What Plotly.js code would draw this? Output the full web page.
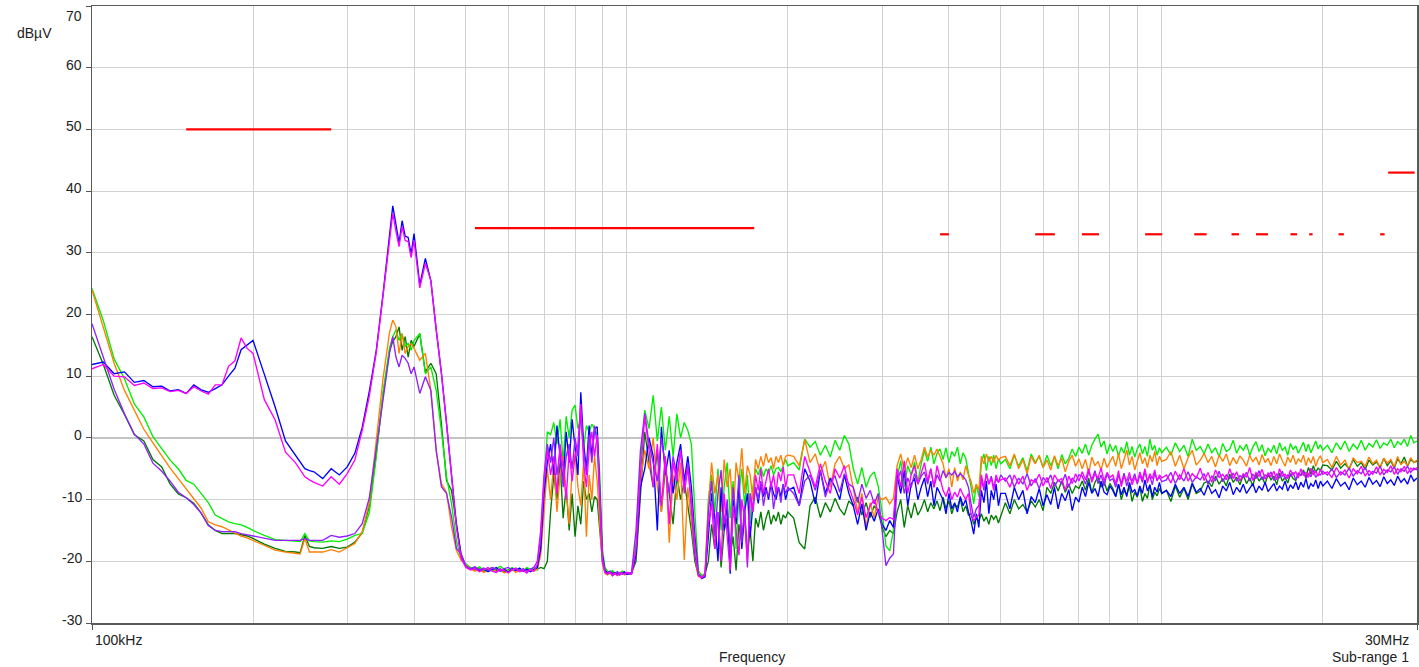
<!DOCTYPE html>
<html>
<head>
<meta charset="utf-8">
<script src="https://cdn.plot.ly/plotly-3.0.1.min.js"></script>
<style>html,body{margin:0;padding:0;background:#fff;}#chart{width:1419px;height:667px;}</style>
</head>
<body>
<div id="chart"></div>
<script>
// ---------- frequency grid (kHz) ----------
const freqLow = [100,105,110,115,120,125,130,135,140,145,150,155,160,165,170,175,180,185,190,195,200,
  210,220,230,240,245,250,255,260,270,280,290,300,310,320,330,340,350,360,
  365,370,375,380,385,390,395,400,
  410,420,430,440,450,460,470,480,490];
const freqA = [500,510,520,530,540,550,560,570,580,590,600,610,620,630,640,650,660,670,680,690,700,710,720,730,740,750,760,770,780,790,800,810,820,830,840,850,860,870,880,890,900,910,920,930,940,950,960,970,980,990,1000];
const freqB = [1020,1040,1060,1080,1100,1120,1140,1160,1180,1200,1220,1240,1260,1280,1300,1320,1340,1360,1380,1400,1420,1440,1460,1480,1500,1520,1540,1560,1580,1600,1620,1640,1660,1680,1700,1720,1740,1760,1780,1800,1820,1840,1860,1880,1900,1920,1940,1960,1980,2000];
const freqC = [2050,2100,2150,2200,2250,2300,2350,2400,2450,2500,2550,2600,2650,2700,2750,2800,2850,2900,2950,3000,3050,3100,3150,3200,3250,3300,3350,3400,3450,3500,3550,3600,3650,3700,3750,3800,3850,3900,3950,4000,4050,4100,4150,4200,4250,4300,4350,4400,4450,4500,4550,4600,4650,4700,4750,4800,4850,4900,4950,5000];
const freqD = [5100,5200,5300,5400,5500,5600,5700,5800,5900,6000,6100,6200,6300,6400,6500,6600,6700,6800,6900,7000,7100,7200,7300,7400,7500,7600,7700,7800,7900,8000,8100,8200,8300,8400,8500,8600,8700,8800,8900,9000,9100,9200,9300,9400,9500,9600,9700,9800,9900,10000];
const freqE = [10200,10400,10600,10800,11000,11200,11400,11600,11800,12000,12200,12400,12600,12800,13000,13200,13400,13600,13800,14000,14200,14400,14600,14800,15000,15200,15400,15600,15800,16000,16200,16400,16600,16800,17000,17200,17400,17600,17800,18000,18200,18400,18600,18800,19000,19200,19400,19600,19800,20000];
const freqF = [20400,20800,21200,21600,22000,22400,22800,23200,23600,24000,24400,24800,25200,25600,26000,26400,26800,27200,27600,28000,28400,28800,29200,29600,30000];

// ---------- blue ----------
const blueLow = [11.9,12.3,10.4,10.7,9.0,9.3,8.3,8.4,7.6,7.8,7.2,8.6,7.8,7.4,8.0,8.6,10.0,11.3,14.3,15.0,15.8,
  10.3,5.0,-0.5,-2.8,-4.0,-5.0,-5.3,-5.5,-6.6,-5.0,-6.0,-4.7,-2.5,1.7,7.6,14.2,23.3,32.7,
  37.6,34.6,31.6,35.2,32.7,32.5,29.8,33.1,
  24.8,29.1,25.5,17.6,10.5,2.4,-6.0,-14.0,-18.9];
const blueA = [-20.8,-21.3,-21.0,-21.5,-21.2,-21.7,-21.4,-21.0,-21.6,-21.3,-21.8,-21.2,-21.5,-21.1,-21.6,-21.3,-21.7,-21.4,-21.0,
  -18,-9,-4,-1,-6,2,-3,-7,1,-4,3,-2,-6,7.4,-1,-5,2,-3,1.5,1.8,-8,-19,-21.5,
  -21.9,-21.6,-22.1,-21.8,-22.2,-21.9,-22.0,-21.7,-22.1];
const blueB = [-22.0,-19,-8,-5,0,-3,-15,1.8,-6,-2,-9,-4,-1,-7,-3,-8,-16,-22,-22.8,-22.5,
  -16,-9,-13,-20,-8,-15,-11,-22,-10,-14,-7.5,-18,-12,-9,-16,-11,
  -8,-10.6,-7.5,-9.5,-8,-10,-7.4,-9,-10,-8,-9.5,-7.5,-10,-8.5];
const blueC = [-8.0,-11.0,-5.0,-7.0,-10.7,-5.3,-9.0,-6.5,-8.0,-10.0,-6.0,-9.0,-11.0,-14.0,-10.7,-15.0,-12.0,-13.5,-11.5,
  -14.0,-15.0,-13.4,-14.5,-6.0,-9.0,-5.3,-11.0,-7.5,-6.5,-10.0,-8.0,-6.5,-9.5,-7.0,-11.0,-8.0,-9.0,
  -10.0,-12.3,-9.0,-11.5,-10.5,-12.0,-9.5,-11.0,-10.0,-12.0,-13.5,-15.6,-12.3,-14.5,
  -8.5,-10.5,-7.0,-12.3,-8.5,-10.0,-7.5,-11.0,-9.0];
const blueD = [-9.0,-11.5,-8.0,-10.0,-8.5,-12.3,-9.5,-10.5,-8.2,-11.0,
  -9.2,-10.8,-8.0,-11.5,-9.0,-10.2,-8.4,-11.8,-9.6,-10.4,
  -8.0,-9.5,-7.2,-9.0,-8.2,-9.5,-7.0,-8.8,-9.2,-7.8,
  -8.5,-9.5,-7.5,-9.2,-8.0,-9.5,-7.2,-8.8,-8.4,-9.4,
  -7.8,-9.0,-6.8,-8.6,-7.6,-9.5,-8.0,-8.8,-7.2,-9.0];
const blueE = [-8.5,-9.5,-7.5,-9.0,-8.0,-9.5,-7.3,-8.8,-8.2,-9.3,
  -7.6,-9.0,-8.4,-9.7,-7.8,-8.6,-7.2,-9.2,-8.0,-8.8,
  -7.5,-9.0,-8.2,-7.4,-8.9,-7.8,-8.5,-7.2,-8.7,-8.0,
  -7.4,-8.6,-7.8,-8.3,-7.0,-8.6,-7.6,-8.2,-7.1,-8.4,
  -7.2,-8.0,-6.6,-8.3,-7.4,-7.9,-6.8,-8.2,-7.0,-7.8];
const blueF = [-7.0,-8.2,-6.6,-7.8,-7.2,-8.4,-6.5,-7.6,-7.0,-8.0,-6.4,-7.5,-6.9,-7.9,-6.3,-7.4,-6.8,-7.7,-6.2,-7.2,-6.6,-7.5,-6.0,-7.0,-6.5];

// ---------- magenta ----------
const magentaLow = [11.2,11.9,10.0,9.9,8.5,8.9,8.0,8.1,7.5,7.7,7.2,8.3,7.6,7.1,8.6,8.6,11.6,12.5,16.2,14.5,13.7,
  6.2,2.9,-2.3,-4.0,-5.2,-6.3,-6.8,-7.2,-7.8,-6.3,-7.5,-5.8,-3.6,1.2,6.8,13.9,23.0,32.2,
  36.4,33.5,31.0,34.3,32.0,31.8,29.2,32.0,
  24.3,28.3,25.5,17.6,10.5,2.4,-6.5,-14.5,-19.5];
const magentaA = [-21.0,-21.4,-21.2,-21.7,-21.3,-21.0,-21.6,-21.8,-21.3,-21.5,-21.9,-21.4,-21.2,-21.7,-21.5,-21.9,-21.3,-21.6,-20.5,
  -16,-7,-2,-6,-3,-9,-1,-5,-10,-2,-7,-3,-1,5.5,-4,-8,-2,1,-3,0.5,-9,-19.5,-21.8,
  -22.0,-21.7,-22.2,-21.9,-22.3,-21.8,-22.1,-22.0,-21.8];
const magentaB = [-22.1,-18,-6,3.5,-2,-8,-1,-11,-3,-14,-4,-7,-2,-9,-5,-10,-17,-22.3,-22.7,-22,
  -14,-10.6,-18,-12,-20,-9,-16,-21.5,-11,-15,-19,-10,-13,-20,-9,-12,
  -6,-8.5,-5,-9,-7,-5,-8,-6,-9,-5.5,-7,-4.7,-8,-6];
const magentaC = [-6.0,-9.0,-3.0,-5.5,-8.0,-4.2,-7.0,-9.0,-5.0,-6.5,-4.5,-8.0,-10.0,-12.5,-9.6,-12.9,-11.0,-10.0,-12.0,
  -13.0,-13.4,-12.9,-13.2,-5.0,-8.0,-3.7,-9.0,-6.0,-4.5,-7.5,-5.5,-4.0,-7.0,-5.0,-8.0,-4.5,-6.5,
  -8.5,-9.5,-8.0,-10.0,-8.8,-9.6,-8.2,-9.2,-10.0,-9.0,-12.3,-13.4,-12.8,-12.5,
  -6.0,-8.0,-5.8,-7.5,-6.5,-8.5,-6.0,-7.2,-6.8];
const magentaD = [-6.5,-8.0,-6.0,-7.5,-6.2,-8.5,-6.8,-7.2,-5.9,-7.8,
  -6.4,-8.2,-6.0,-7.0,-6.6,-8.5,-6.2,-7.4,-5.8,-7.0,
  -5.5,-6.8,-5.0,-7.2,-5.8,-6.5,-4.9,-7.0,-5.6,-6.4,
  -6.0,-7.5,-5.3,-7.9,-6.2,-7.0,-5.6,-7.6,-6.4,-7.2,
  -5.5,-6.8,-5.0,-7.3,-5.8,-6.6,-5.2,-7.0,-6.0,-6.5];
const magentaE = [-6.0,-7.3,-5.4,-6.8,-5.0,-7.0,-5.8,-6.5,-4.9,-6.9,
  -5.6,-7.2,-5.2,-6.4,-5.9,-6.8,-5.0,-6.6,-5.5,-7.0,
  -5.8,-6.4,-4.8,-6.9,-5.6,-6.2,-5.1,-6.7,-5.7,-6.3,
  -5.4,-6.8,-5.0,-6.2,-5.9,-6.6,-5.2,-6.0,-5.5,-6.5,
  -5.0,-6.1,-5.6,-6.4,-4.9,-6.0,-5.4,-6.2,-5.1,-5.9];
const magentaF = [-5.5,-6.4,-4.8,-6.0,-5.2,-6.5,-5.0,-5.8,-4.6,-6.2,-5.3,-5.9,-4.7,-6.0,-5.1,-5.6,-4.5,-5.9,-5.0,-5.5,-4.6,-5.8,-4.9,-5.2,-4.8];

// ---------- green ----------
const greenLow = [24.2,19.0,12.8,9.6,5.5,3.4,0.2,-1.7,-3.6,-5.0,-6.9,-7.5,-9.0,-10.5,-12.5,-13.0,-13.6,-13.9,-14.1,-14.5,-15.0,
  -15.8,-16.5,-16.6,-16.8,-16.8,-15.5,-16.7,-16.8,-16.9,-16.7,-16.8,-16.4,-15.8,-15.5,-12.1,-3.1,7.4,14.6,
  16.4,17.5,15.8,16.9,14.8,15.3,14.2,15.8,
  16.9,10.4,11.5,7.7,1.2,-6.3,-10.6,-16.6,-19.8];
const greenA = [-20.4,-21.0,-21.3,-20.9,-21.4,-21.1,-21.6,-21.2,-20.8,-21.3,-21.5,-21.0,-21.4,-21.2,-21.6,-21.0,-21.3,-21.1,-21.4,
  -18,-8,1.0,0.5,2.5,-1.0,3.0,-4.0,3.5,0.0,4.5,5.3,1.5,3.0,-2.0,2.0,1.0,2.2,1.5,0.5,-6,-18,-21,
  -21.6,-21.8,-21.5,-22.0,-21.7,-21.9,-21.6,-21.8,-22.0];
const greenB = [-21.9,-17,-4,4.5,1.5,6.9,-0.5,5.0,-2,3.5,-3,3.9,0,2.5,1.2,-1,-12,-21.5,-22.3,-22,
  -10,-6,-12,-5,-15,-8,-4,-13,-7,-18,-9,-5,-11,-6,-14,-8,
  -5,-6,-4.7,-6.3,-5,-5.8,-4.5,-6,-5,-4.8,-5.5,-4.5,-3.5,-4.5];
const greenC = [-4.0,-5.2,-0.2,-1.5,-0.6,-2.8,-1.2,-3.1,-0.4,-2.0,0.4,-1.0,-5.0,-7.5,-4.8,-8.0,-6.2,-5.5,-7.8,
  -12.0,-17.5,-18.3,-15.0,-6.5,-3.7,-8.0,-4.5,-6.0,-3.9,-7.2,-4.2,-2.0,-3.8,-1.5,-4.2,-2.5,-1.8,
  -3.5,-1.6,-4.0,-2.2,-3.0,-1.5,-4.2,-2.4,-3.3,-5.5,-8.0,-10.7,-7.5,-9.5,
  -4.0,-2.6,-5.3,-3.0,-4.5,-2.8,-5.0,-3.4,-4.2];
const greenD = [-3.5,-5.0,-2.8,-4.6,-3.2,-5.3,-2.6,-4.0,-3.0,-4.8,
  -2.8,-4.5,-3.1,-5.0,-2.7,-4.2,-3.3,-1.8,-3.0,-1.5,
  -2.5,-1.0,-2.8,-1.2,-0.2,0.6,-1.5,-0.5,-2.6,-1.0,
  -2.2,-1.2,-3.0,-1.5,-2.5,-0.6,-2.8,-1.4,-3.1,-1.8,
  -1.0,-2.6,-1.4,-3.0,-0.2,-2.0,-1.2,-2.8,-1.6,-2.4];
const greenE = [-1.5,-2.8,-0.8,-2.2,-1.2,-3.0,-0.2,-2.0,-1.4,-2.6,
  -1.0,-2.4,-1.6,-3.1,-0.9,-2.2,-1.8,-0.4,-2.5,-1.3,
  -2.0,-1.0,-2.8,-1.5,-0.6,-2.2,-1.1,-2.9,-1.7,-2.3,
  -1.2,-2.6,-0.8,-2.0,-1.5,-2.8,-0.9,-1.9,-1.3,-2.5,
  -1.6,-0.7,-2.2,-1.0,-2.4,-1.3,-0.5,-1.8,-1.1,-2.0];
const greenF = [-1.2,-2.4,-0.8,-1.9,-0.5,-2.2,-1.0,-1.8,-0.4,-2.0,-0.9,-1.5,-0.3,-1.7,-0.8,-1.2,-0.2,-1.6,-0.6,-1.1,-0.2,-1.4,0.4,-0.8,-0.5];

// ---------- orange ----------
const orangeLow = [24.0,17.8,12.1,7.7,4.5,1.4,-0.8,-3.0,-4.9,-6.6,-8.3,-9.9,-11.4,-13.6,-14.1,-14.4,-14.9,-15.5,-15.9,-16.2,-16.6,
  -17.5,-18.2,-18.5,-18.7,-18.8,-16.3,-18.5,-18.5,-18.5,-18.1,-18.5,-17.8,-17.1,-15.2,-10.5,-0.4,9.6,17.1,
  19.1,18.0,13.7,16.9,13.7,14.8,15.3,14.5,
  12.6,13.7,7.7,-2.0,-7.4,-8.8,-14.4,-18.2,-19.8];
const orangeA = [-20.6,-21.2,-21.6,-21.3,-21.8,-21.5,-21.2,-21.7,-21.4,-21.9,-21.6,-21.3,-21.8,-21.5,-21.2,-21.7,-21.4,-21.6,-21.3,
  -19,-12,-5,-10,-4,-12,-6,-3,-9,-14,-5,-2.5,-8,-11,-4,-16,-6,-10,-3,-7,-14,-20.5,-22,
  -22.2,-21.9,-22.4,-22.0,-22.3,-22.1,-21.8,-22.2,-22.0];
const orangeB = [-22.1,-19,-7,-2,-5,0,-8,-12,-3,-17,-6,-10,-4,-19.8,-8,-14,-19,-22.5,-22.6,-22,
  -11,-4,-9,-6,-12,-3.5,-8,-5,-13,-4,-7,-1.7,-9,-4.5,-6,-10,
  -3.5,-5,-3,-4.6,-2.5,-4,-3.2,-5,-3,-4,-2.8,-4.5,-3,-2.8];
const orangeC = [-3.0,-4.5,-0.3,-4.0,-2.6,-5.5,-3.8,-8.0,-4.2,-3.0,-5.0,-4.4,-8.5,-12.0,-9.0,-14.5,-10.5,-13.0,-9.5,
  -10.0,-9.6,-10.7,-9.8,-4.5,-2.6,-5.3,-3.2,-4.8,-2.8,-5.0,-3.5,-1.5,-3.1,-2.0,-2.8,-1.8,-3.0,
  -4.2,-6.5,-5.0,-8.0,-4.8,-7.0,-5.5,-6.8,-4.5,-6.0,-7.0,-9.0,-7.5,-8.5,
  -3.0,-4.2,-2.6,-3.8,-3.0,-4.0,-2.8,-3.6,-3.2];
const orangeD = [-3.0,-4.5,-2.6,-5.0,-3.5,-5.8,-3.0,-4.2,-2.8,-4.8,
  -3.6,-5.2,-2.9,-4.5,-3.3,-5.5,-3.8,-2.8,-4.6,-3.4,
  -5.0,-3.5,-5.7,-3.1,-4.5,-3.8,-5.2,-3.3,-4.8,-4.0,
  -3.0,-4.6,-2.5,-5.0,-3.4,-2.0,-4.4,-3.0,-5.2,-3.6,
  -2.4,-4.2,-3.2,-4.8,-2.8,-3.9,-2.2,-4.5,-3.0,-3.8];
const orangeE = [-3.5,-2.2,-4.6,-2.8,-5.0,-3.2,-2.0,-4.4,-3.6,-2.5,
  -4.0,-3.0,-4.7,-2.8,-3.8,-2.6,-4.5,-3.2,-4.2,-2.9,
  -3.6,-4.6,-2.8,-3.9,-3.1,-4.4,-2.7,-4.0,-3.3,-4.5,
  -3.0,-4.2,-2.6,-3.7,-4.6,-3.1,-4.0,-2.8,-4.3,-3.4,
  -3.9,-2.8,-4.5,-3.2,-4.1,-3.0,-4.6,-3.5,-2.9,-4.0];
const orangeF = [-3.5,-4.8,-3.0,-4.4,-3.6,-5.2,-3.2,-4.0,-3.8,-4.6,-3.1,-4.2,-3.6,-4.9,-3.3,-4.1,-3.5,-4.7,-3.0,-4.3,-3.8,-4.5,-3.2,-4.0,-3.6];

// ---------- dark green ----------
const darkLow = [16.4,11.9,6.9,3.8,0.5,-0.5,-3.5,-4.7,-7.5,-9.1,-9.7,-10.6,-12.2,-14.1,-15.0,-15.5,-15.5,-15.5,-15.7,-15.9,-16.3,
  -17.2,-17.9,-18.4,-18.5,-18.6,-15.8,-17.6,-17.8,-17.9,-17.6,-17.9,-17.7,-16.9,-15.4,-11.0,-2.5,6.9,14.1,
  15.6,16.4,18.0,14.2,16.4,13.1,15.8,14.8,
  16.9,10.7,12.1,10.4,2.3,-6.9,-8.5,-13.9,-19.3];
const darkA = [-20.8,-21.1,-21.4,-21.2,-21.6,-21.3,-21.0,-21.5,-21.2,-21.7,-21.4,-21.1,-21.5,-21.3,-21.6,-21.2,-21.4,-21.1,-21.3,
  -21.0,-21.2,-20,-12,-6,-10,-4,-13,-8,-15,-9,-16,-11,-14,-7,-10,-9,-12,-9.5,-10,-15,-20,-21.5,
  -21.8,-22.0,-21.7,-22.1,-21.9,-22.2,-21.8,-22.0,-21.9];
const darkB = [-21.9,-20,-10,1,-4,-8,-2,-12,-5,-9,-14,-6,-10,-7,-11,-15,-20,-22.3,-22.5,-22,
  -20,-14,-18,-12,-21,-15,-13,-19,-16,-21.5,-14,-17,-12,-19,-15,-20,
  -13,-14.5,-12,-15,-13,-11.7,-14,-12.5,-13.5,-12,-14,-12.5,-13,-12];
const darkC = [-13.0,-17.0,-18.0,-11.0,-9.6,-12.9,-10.5,-12.0,-9.8,-11.5,-12.5,-10.2,-11.0,-9.6,-12.5,-10.5,-12.9,-11.0,-12.0,
  -14.5,-16.0,-15.0,-15.5,-12.0,-10.0,-14.5,-11.0,-13.0,-10.5,-12.5,-11.5,-10.0,-12.0,-10.5,-11.5,-10.2,-11.8,
  -9.6,-11.5,-10.2,-12.3,-10.8,-11.2,-9.8,-12.0,-11.0,-12.5,-12.3,-14.0,-13.0,-13.5,
  -12.3,-13.5,-12.8,-14.0,-12.5,-13.2,-12.6,-13.8,-12.8];
const darkD = [-10.5,-12.3,-10.0,-11.5,-10.8,-12.0,-10.2,-11.2,-10.0,-11.8,
  -8.0,-9.0,-7.2,-8.6,-7.0,-8.8,-7.5,-9.0,-7.8,-8.2,
  -7.0,-8.5,-6.5,-8.9,-7.2,-6.3,-8.0,-7.0,-8.6,-7.4,
  -8.2,-9.5,-7.5,-10.0,-8.5,-9.2,-7.8,-10.3,-8.8,-9.6,
  -8.0,-10.3,-9.0,-9.8,-7.6,-10.0,-8.8,-9.4,-8.2,-9.0];
const darkE = [-8.5,-10.3,-7.8,-9.6,-8.2,-10.0,-7.5,-9.0,-8.6,-7.3,
  -7.0,-7.9,-6.2,-7.5,-6.6,-7.8,-5.9,-7.2,-6.4,-7.6,
  -6.0,-7.4,-6.5,-7.8,-5.8,-7.0,-6.3,-7.5,-5.9,-6.8,
  -6.2,-7.6,-5.7,-7.0,-6.4,-7.3,-5.8,-6.6,-6.9,-5.9,
  -6.0,-5.2,-6.4,-4.8,-5.9,-4.5,-5.6,-4.9,-5.3,-4.4];
const darkF = [-4.5,-5.2,-3.8,-4.9,-4.2,-5.0,-3.5,-4.6,-4.0,-5.1,-3.6,-4.4,-3.9,-4.8,-3.3,-4.5,-3.7,-4.9,-3.4,-4.2,-3.1,-4.6,-3.5,-4.0,-3.8];

// ---------- purple ----------
const purpleLow = [18.5,13.0,7.9,3.9,0.6,-1.0,-4.1,-5.4,-7.0,-8.8,-9.7,-10.8,-12.2,-14.2,-15.0,-15.2,-15.2,-15.2,-15.5,-15.7,-15.9,
  -16.3,-16.6,-16.6,-16.6,-16.6,-16.3,-16.6,-16.6,-16.6,-15.8,-16.1,-15.9,-15.5,-13.9,-9.7,-1.7,6.1,13.8,
  16.4,13.1,11.5,13.4,12.9,12.1,10.4,11.5,
  7.2,9.9,7.7,-2.0,-7.9,-9.0,-12.8,-17.9,-18.8];
const purpleA = [-20.8,-21.2,-20.9,-21.4,-21.1,-21.5,-21.0,-21.3,-21.6,-21.2,-21.0,-21.4,-21.1,-21.5,-21.2,-21.6,-21.3,-21.0,-20.0,
  -15,-6,-1,-4,0,-6,-2,-8,-3,-1,-5,0,-3,4.5,-2,-6,0.5,-4,2,-1,-10,-20,-21.8,
  -22.1,-21.8,-22.3,-22.0,-21.7,-22.2,-21.9,-22.1,-21.8];
const purpleB = [-21.9,-15,-2,4,-1,-4,-7,0,-5,-9,-3,-6,-2,-8,-4,-12,-19,-22,-22.6,-22.3,
  -12,-7,-16,-9,-5.2,-14,-10,-18.8,-8,-13,-6,-17,-11,-21,-9,-12,
  -8,-10,-7,-11,-8.5,-9.5,-7,-11.5,-9,-8,-10.5,-7.5,-9,-8];
const purpleC = [-9.0,-11.0,-7.0,-6.0,-8.5,-5.3,-9.6,-7.0,-6.2,-8.8,-5.8,-7.5,-8.0,-10.5,-7.5,-9.8,-8.5,-10.7,-9.0,
  -15.0,-20.7,-19.5,-18.8,-7.0,-5.3,-9.0,-6.5,-8.0,-5.8,-7.5,-6.2,-5.5,-7.5,-5.0,-8.0,-6.0,-7.0,
  -5.3,-6.4,-5.6,-6.0,-5.4,-6.3,-5.8,-6.2,-6.8,-8.0,-10.7,-12.9,-11.5,-11.0,
  -6.5,-8.5,-5.8,-7.5,-6.2,-8.0,-6.6,-7.2,-6.0];
const purpleD = [-7.0,-6.0,-8.0,-6.5,-7.5,-5.8,-7.8,-6.6,-8.2,-6.4,
  -7.2,-6.0,-7.9,-6.8,-7.4,-5.9,-8.0,-6.5,-7.2,-6.0,
  -6.2,-7.5,-5.5,-6.8,-5.3,-7.4,-6.0,-7.8,-5.8,-6.9,
  -6.6,-8.0,-6.0,-7.4,-5.7,-7.8,-6.3,-7.0,-5.8,-7.5,
  -6.0,-7.2,-5.4,-6.9,-6.2,-7.6,-5.7,-6.8,-6.4,-7.1];
const purpleE = [-6.8,-5.6,-7.4,-6.0,-7.0,-5.5,-7.2,-6.3,-6.8,-5.8,
  -7.5,-6.2,-6.9,-5.4,-7.1,-6.0,-6.6,-5.7,-7.0,-6.1,
  -6.4,-5.6,-7.0,-5.9,-6.6,-5.3,-6.8,-6.0,-6.3,-5.5,
  -6.9,-5.8,-6.5,-5.4,-6.7,-6.0,-6.2,-5.6,-6.8,-5.7,
  -6.1,-5.5,-6.6,-5.8,-6.3,-5.2,-6.4,-5.9,-6.0,-5.4];
const purpleF = [-6.0,-5.0,-6.4,-5.5,-6.0,-4.9,-6.2,-5.3,-5.8,-4.8,-6.1,-5.4,-5.7,-4.6,-6.0,-5.2,-5.5,-4.7,-5.9,-5.0,-5.4,-4.6,-5.6,-4.9,-5.2];

// ---------- limit lines (kHz start, kHz end, dBuV) ----------
const limStart = [150, 520, 3850, 5800, 7090, 9310, 11500, 13500, 15000, 17400, 18860, 21400, 25600, 26500];
const limEnd   = [280, 1730, 4000, 6310, 7630, 10020, 12130, 13940, 15800, 17900, 19140, 21900, 26100, 29700];
const limLevel = [50, 34, 33, 33, 33, 33, 33, 33, 33, 33, 33, 33, 33, 43];

// ---------- axis grid / labels ----------
const gridFreqs = [200,300,400,500,600,700,800,900,1000,2000,3000,4000,5000,6000,7000,8000,9000,10000,20000];
const yTicks = [-30,-20,-10,0,10,20,30,40,50,60,70];
const yTickText = ['-30','-20','-10','0','10','20','30','40','50','60','70'];
const labelUnit = 'dBµV';
const labelStart = '100kHz';
const labelEnd = '30MHz';
const labelX = 'Frequency';
const labelRange = 'Sub-range 1';

// ---------- build ----------
const freq = freqLow.concat(freqA, freqB, freqC, freqD, freqE, freqF);
const series = [
  {name:'dark green', color:'#007a00', y: darkLow.concat(darkA, darkB, darkC, darkD, darkE, darkF)},
  {name:'green', color:'#00ee00', y: greenLow.concat(greenA, greenB, greenC, greenD, greenE, greenF)},
  {name:'orange', color:'#ff7f00', y: orangeLow.concat(orangeA, orangeB, orangeC, orangeD, orangeE, orangeF)},
  {name:'blue', color:'#0000ff', y: blueLow.concat(blueA, blueB, blueC, blueD, blueE, blueF)},
  {name:'purple', color:'#9020ff', y: purpleLow.concat(purpleA, purpleB, purpleC, purpleD, purpleE, purpleF)},
  {name:'magenta', color:'#ff00ff', y: magentaLow.concat(magentaA, magentaB, magentaC, magentaD, magentaE, magentaF)}
];
const traces = series.map(s => ({
  type:'scatter', mode:'lines', x: freq, y: s.y, name: s.name,
  line:{color:s.color, width:1.35}, hoverinfo:'skip'
}));
const lx = [], ly = [];
for (let i = 0; i < limStart.length; i++) {
  lx.push(limStart[i], limEnd[i], null);
  ly.push(limLevel[i], limLevel[i], null);
}
traces.push({type:'scatter', mode:'lines', x: lx, y: ly, name:'limit',
  line:{color:'#ff0000', width:2.2}, connectgaps:false, hoverinfo:'skip'});

const font = {family:'"Liberation Sans", Arial, sans-serif', size:14, color:'#222'};
const annotations = [
  {text:labelUnit, xref:'paper', yref:'paper', x:-0.0581, y:0.956, xanchor:'left', yanchor:'middle', showarrow:false, font:font},
  {text:labelStart, xref:'paper', yref:'paper', x:0.0005, y:-0.0276, xanchor:'left', yanchor:'middle', showarrow:false, font:font},
  {text:labelEnd, xref:'paper', yref:'paper', x:0.9955, y:-0.0276, xanchor:'right', yanchor:'middle', showarrow:false, font:font},
  {text:labelX, xref:'paper', yref:'paper', x:0.498, y:-0.0551, xanchor:'center', yanchor:'middle', showarrow:false, font:font},
  {text:labelRange, xref:'paper', yref:'paper', x:0.9955, y:-0.0551, xanchor:'right', yanchor:'middle', showarrow:false, font:font}
];
yTicks.forEach((v, i) => {
  annotations.push({text:yTickText[i], xref:'paper', yref:'y', x:-0.006, y:v, xanchor:'right', yanchor:'middle',
    yshift: (v === 70 ? -10 : 3), showarrow:false, font:font});
});

const layout = {
  width:1419, height:667,
  margin:{l:92, r:2, t:6, b:44},
  paper_bgcolor:'#fff', plot_bgcolor:'#fff',
  showlegend:false,
  font: font,
  xaxis:{
    type:'log', range:[Math.log10(100), Math.log10(30000)],
    tickvals:[100,30000], ticktext:['',''], ticks:'outside', ticklen:5, tickcolor:'#555',
    showticklabels:false, showgrid:false,
    minor:{tickvals: gridFreqs, showgrid:true, gridcolor:'#d2d2d2', gridwidth:1, ticks:''},
    showline:true, linecolor:'#5a5a5a', linewidth:1.5, mirror:true, zeroline:false
  },
  yaxis:{
    range:[-30,70], tickvals:yTicks, ticks:'outside', ticklen:5, tickcolor:'#555',
    showticklabels:false,
    showgrid:true, gridcolor:'#d2d2d2', gridwidth:1,
    zeroline:true, zerolinecolor:'#c4c4c4', zerolinewidth:1.5,
    showline:true, linecolor:'#5a5a5a', linewidth:1.5, mirror:true
  },
  annotations: annotations
};
Plotly.newPlot('chart', traces, layout, {staticPlot:true, displayModeBar:false});
</script>
</body>
</html>
